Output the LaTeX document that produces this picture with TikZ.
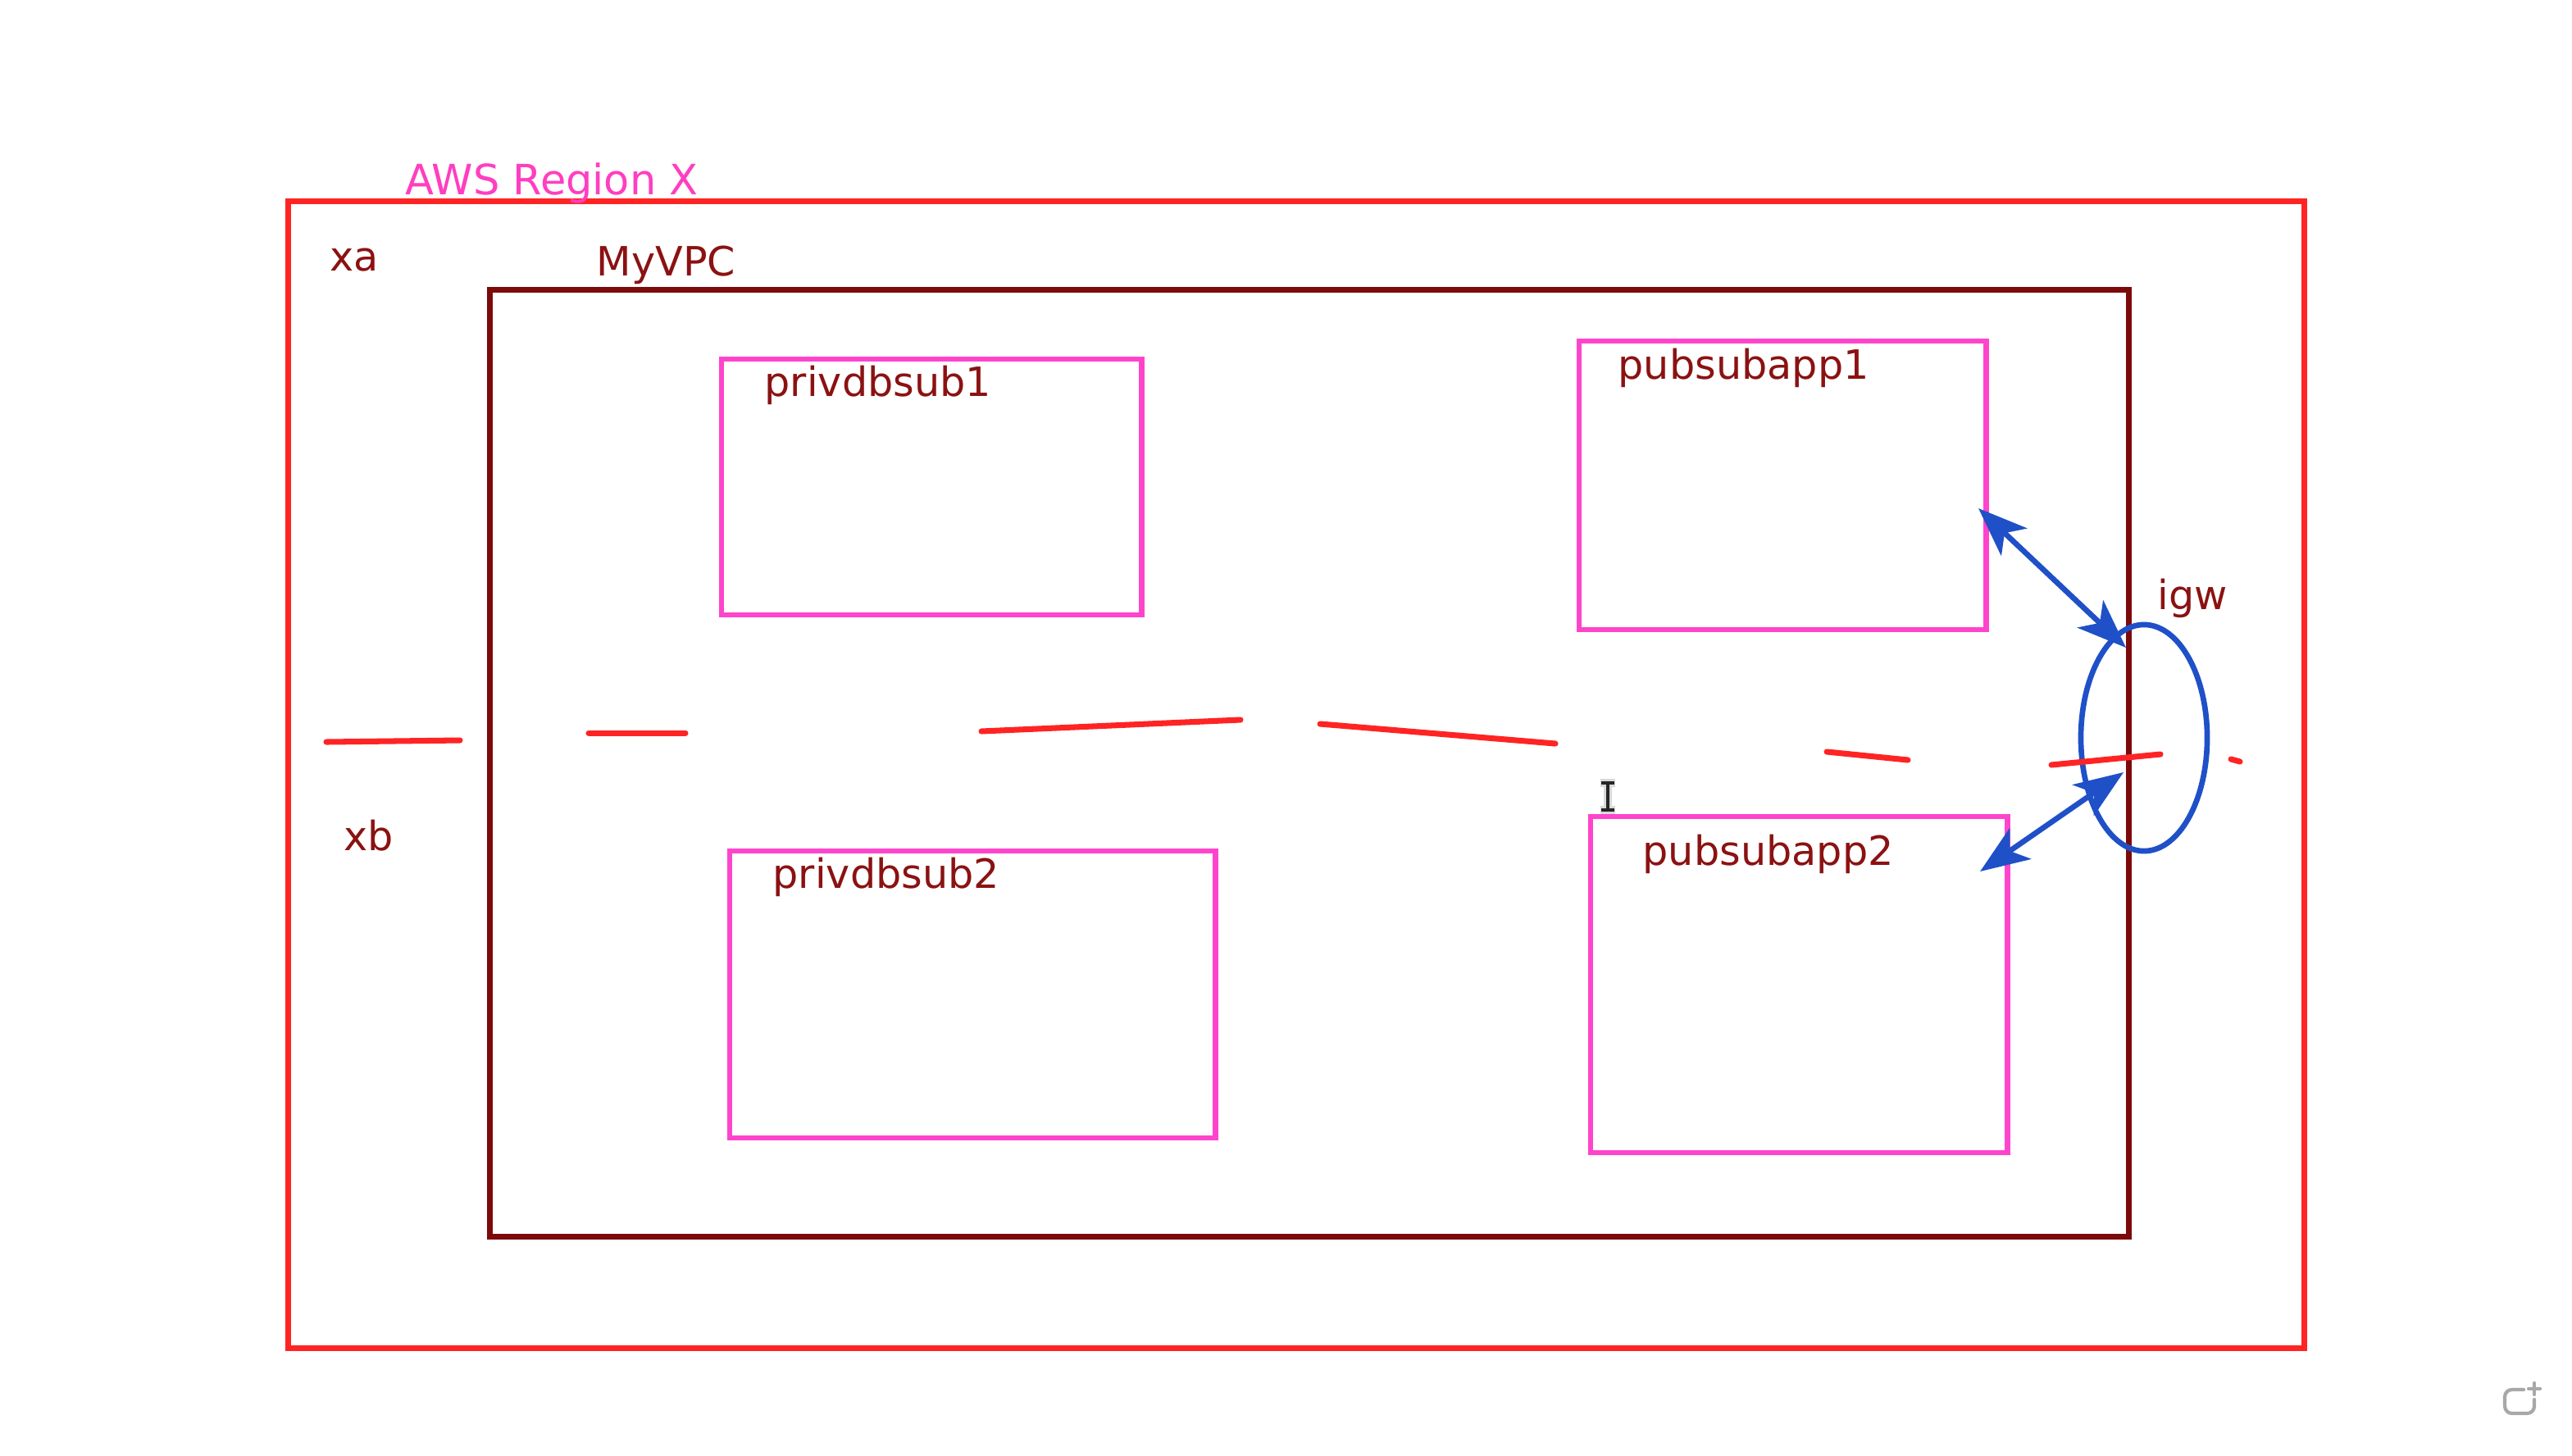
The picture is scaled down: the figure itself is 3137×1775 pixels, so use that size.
\documentclass[tikz,border=0pt]{standalone}
\usepackage{fontspec}
\setmainfont{DejaVu Sans}
\usetikzlibrary{shapes.geometric,arrows.meta}
\definecolor{regred}{HTML}{FF2424}
\definecolor{vpcred}{HTML}{7D0A0A}
\definecolor{lblred}{HTML}{8B1212}
\definecolor{subpink}{HTML}{FF44CC}
\definecolor{awspink}{HTML}{FF3EC0}
\definecolor{igwblue}{HTML}{1F50C8}
\definecolor{uigray}{HTML}{A8A8A8}
\begin{document}
\begin{tikzpicture}[x=0.01cm,y=-0.01cm,
  region/.style={draw=regred, line width=2.1pt, inner sep=0pt, outer sep=0pt},
  vpc/.style={draw=vpcred, line width=2.1pt, inner sep=0pt, outer sep=0pt},
  subnet/.style={draw=subpink, line width=1.9pt, inner sep=0pt, outer sep=0pt},
  lbl/.style={anchor=base west, inner sep=0pt, font=\fontsize{14}{16}\selectfont, text=lblred},
  gw/.style={draw=igwblue, line width=1.9pt, ellipse, inner sep=0pt, outer sep=0pt},
  link/.style={draw=igwblue, line width=1.9pt, {Stealth[length=17pt,width=13pt,inset=4.5pt]}-{Stealth[length=17pt,width=13pt,inset=4.5pt]}},
  azline/.style={draw=regred, line width=2pt, line cap=round}
]
\fill[white] (0,0) rectangle (3137,1775);
\useasboundingbox (0,0) rectangle (3137,1775);

% containers
\node[region, minimum width=24.58cm, minimum height=13.98cm] (reg) at (1581,945) {};
\node[vpc, minimum width=19.98cm, minimum height=11.54cm] (myvpc) at (1597,931) {};

% subnets
\node[subnet, minimum width=5.12cm, minimum height=3.12cm] (priv1) at (1136,594) {};
\node[subnet, minimum width=4.96cm, minimum height=3.52cm] (pub1) at (2174,592) {};
\node[subnet, minimum width=5.92cm, minimum height=3.50cm] (priv2) at (1186,1213) {};
\node[subnet, minimum width=5.08cm, minimum height=4.10cm] (pub2) at (2194,1201) {};

% internet gateway
\node[gw, minimum width=1.54cm, minimum height=2.76cm] (igw) at (2615,900) {};

% labels
\node[lbl, text=awspink, font=\fontsize{14.5}{16}\selectfont] (awslbl) at (494,237) {AWS Region X};
\node[lbl] (xalbl) at (402,330) {xa};
\node[lbl] (vpclbl) at (727,336) {MyVPC};
\node[lbl] (p1lbl) at (932,483) {privdbsub1};
\node[lbl] (u1lbl) at (1973,462) {pubsubapp1};
\node[lbl] (p2lbl) at (942,1083) {privdbsub2};
\node[lbl] (u2lbl) at (2003,1055) {pubsubapp2};
\node[lbl] (xblbl) at (419,1037) {xb};
\node[lbl] (igwlbl) at (2631,743) {igw};

% AZ separator (hand drawn dashes)
\draw[azline] (398,905) -- (561,903);
\draw[azline] (718,894) -- (836,894);
\draw[azline] (1197,892) -- (1513,878);
\draw[azline] (1610,883) -- (1897,907);
\draw[azline] (2228,917) -- (2327,927);
\draw[azline] (2502,933) -- (2635,920);
\draw[azline] (2721,926) -- (2732,929);

% connectors
\coordinate (a1s) at (2413,620);
\coordinate (a1e) at (2593,790);
\coordinate (a2s) at (2415,1063);
\coordinate (a2e) at (2590,942);
\draw[link] (a1s) -- (a1e);
\draw[link] (a2s) -- (a2e);

% text cursor
\begin{scope}[line cap=butt]
\draw[white!85!black, line width=2.6pt] (1961,954) -- (1961,989) (1952,955) -- (1970,955) (1952,988) -- (1970,988);
\draw[black!85, line width=1.1pt] (1961,955) -- (1961,988) (1953,955) -- (1969,955) (1953,988) -- (1969,988);
\end{scope}

% corner icon
\draw[uigray, line width=1.2pt, rounded corners=2.5pt, line cap=round] (3078,1695) -- (3055,1695) -- (3055,1724) -- (3091,1724) -- (3091,1707);
\draw[uigray, line width=1.2pt, line cap=round] (3084,1694) -- (3098,1694) (3091,1687) -- (3091,1701);
\end{tikzpicture}
\end{document}
